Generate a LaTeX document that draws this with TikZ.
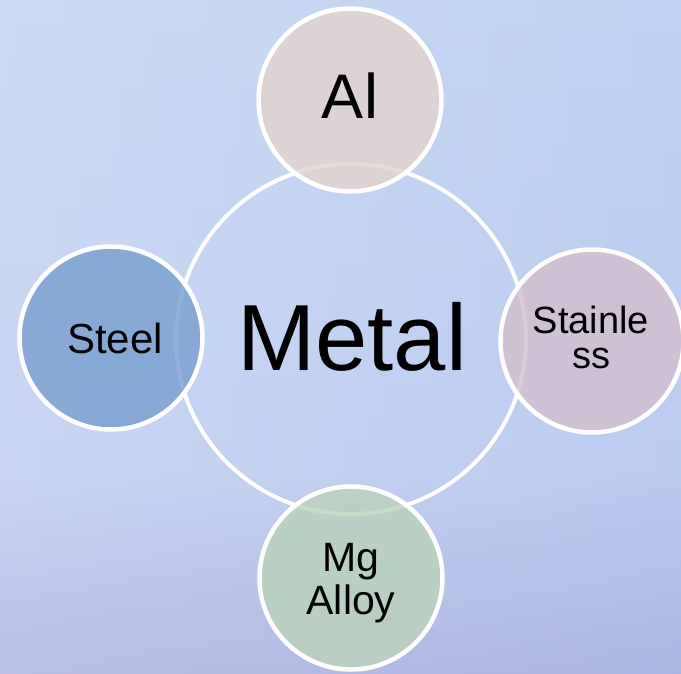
\documentclass[tikz,border=0pt]{standalone}
\usepackage{fontspec}
\setmainfont{Liberation Sans}
\definecolor{bgtop}{RGB}{190,210,241}
\definecolor{bgmid}{RGB}{186,202,240}
\definecolor{bgbot}{RGB}{166,174,222}
\definecolor{alfill}{RGB}{229,211,205}
\definecolor{steelfill}{RGB}{120,158,207}
\definecolor{stainfill}{RGB}{211,190,205}
\definecolor{mgfill}{RGB}{187,210,186}
\tikzset{
  satellite/.style={circle, draw=white, line width=4.5pt, fill opacity=0.8, inner sep=0pt, minimum size=183pt},
  hub/.style={circle, draw=white, line width=4pt, inner sep=0pt, minimum size=350pt},
  lbl/.style={inner sep=0pt, text=black, align=center}
}
\begin{document}
\begin{tikzpicture}[x=1pt,y=-1pt]
\useasboundingbox (0,0) rectangle (681,673);
\shade[top color=bgtop, bottom color=bgmid] (0,0) rectangle (681,470);
\shade[top color=bgmid, bottom color=bgbot] (0,470) rectangle (681,673);
\shade[left color=white, right color=bgtop, opacity=0.22] (0,0) rectangle (681,673);
\node[hub] (metal) at (351,339) {};
\node[satellite, fill=alfill] (al) at (350,100) {};
\node[satellite, fill=steelfill] (steel) at (111,338) {};
\node[satellite, fill=stainfill] (stain) at (592,341) {};
\node[satellite, fill=mgfill] (mg) at (351,578) {};
\node[lbl, anchor=base, font=\fontsize{94}{94}\selectfont] (metaltxt) at (352,370) {Metal};
\node[lbl, anchor=base, font=\fontsize{63}{63}\selectfont] (altxt) at (350,118) {Al};
\node[lbl, anchor=base, font=\fontsize{42}{42}\selectfont] (steeltxt) at (115,353) {Steel};
\node[lbl, font=\fontsize{38}{35}\selectfont] (staintxt) at (591,337) {Stainle\\ss};
\node[lbl, font=\fontsize{41}{43}\selectfont] (mgtxt) at (351,583) {Mg\\Alloy};
\end{tikzpicture}
\end{document}
